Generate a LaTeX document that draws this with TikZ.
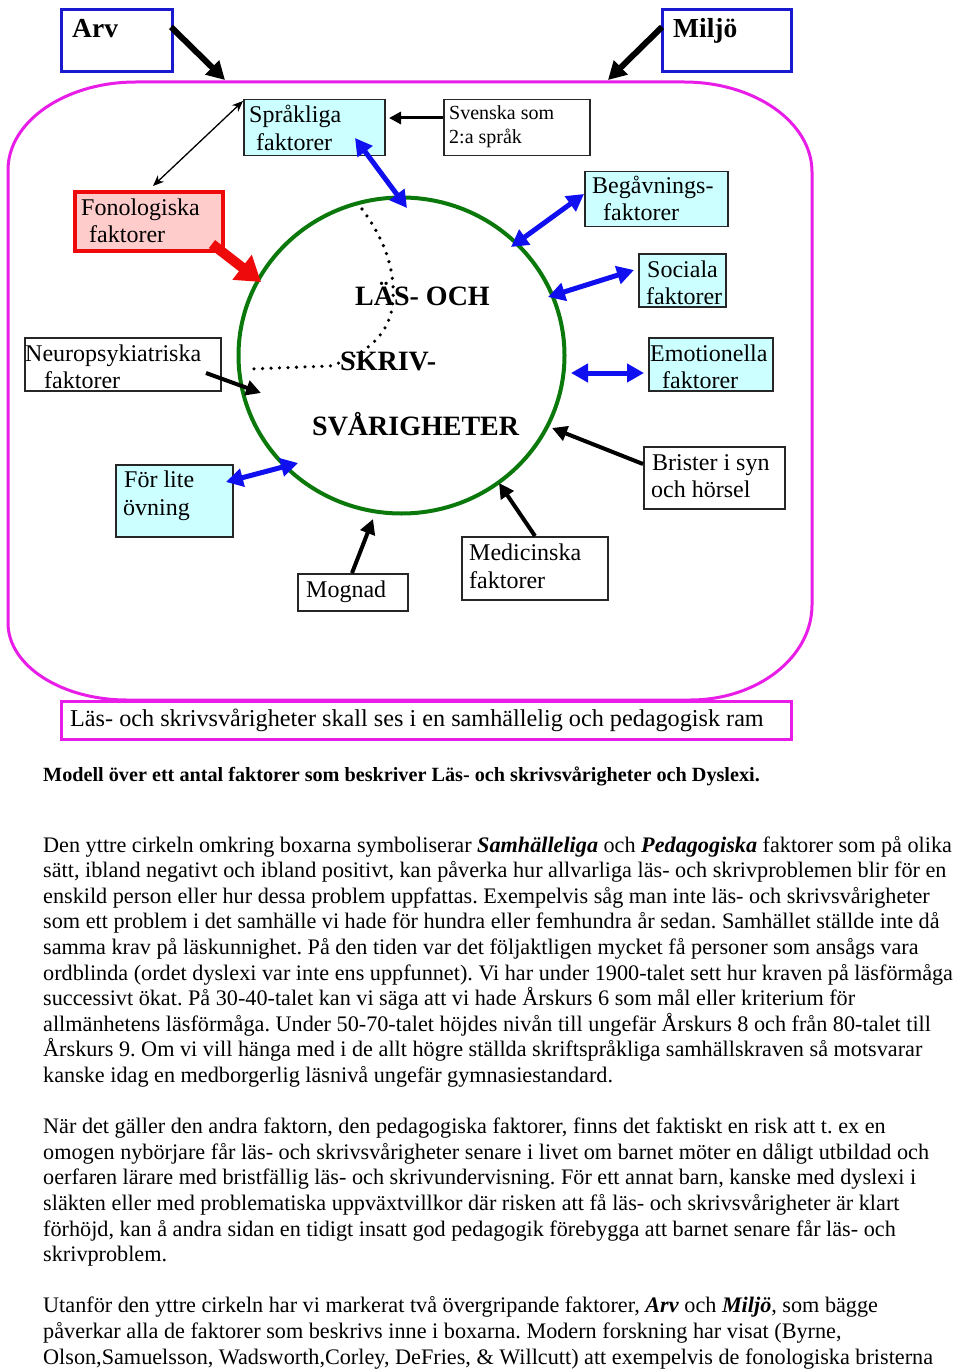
\documentclass[tikz,border=0pt]{standalone}
\usepackage{fontspec}
\setmainfont{Liberation Serif}
\usetikzlibrary{arrows.meta,calc}
\definecolor{boxblue}{RGB}{25,25,205}
\definecolor{arrblue}{RGB}{15,15,240}
\definecolor{pinkline}{RGB}{232,30,232}
\definecolor{circgreen}{RGB}{10,120,10}
\definecolor{cyanfill}{RGB}{204,255,255}
\definecolor{rosefill}{RGB}{255,204,204}
\definecolor{redline}{RGB}{238,10,10}
\frenchspacing
\begin{document}
\begin{tikzpicture}[x=1pt,y=-1pt,
  box/.style={draw=black!85, line width=1.5pt, anchor=north west, inner sep=0pt},
  bigbox/.style={draw=boxblue, line width=3pt, anchor=north west, inner sep=0pt},
  bt/.style={anchor=base west, inner sep=0pt, font=\fontsize{24}{28}\selectfont},
  st/.style={anchor=base west, inner sep=0pt, font=\fontsize{20}{24}\selectfont},
  ht/.style={anchor=base west, inner sep=0pt, font=\fontsize{27.5}{30}\selectfont\bfseries},
  ct/.style={anchor=base west, inner sep=0pt, font=\fontsize{28}{30}\selectfont\bfseries},
  body/.style={anchor=base west, inner sep=0pt, font=\fontsize{22.2}{25}\selectfont},
  heavy/.style={line width=6pt, -{Triangle[length=18pt,width=19pt]}},
  medarr/.style={line width=4pt, -{Triangle[length=15pt,width=15pt]}},
  thinarr/.style={line width=3pt, -{Triangle[length=12pt,width=12pt]}},
  twoway/.style={arrblue, line width=5pt, {Triangle[length=17pt,width=18pt]}-{Triangle[length=17pt,width=18pt]}},
  dotline/.style={line width=3.6pt, dash pattern=on 0pt off 8.5pt, line cap=round}
]
\useasboundingbox (0,0) rectangle (960,1372);
\fill[white] (0,0) rectangle (960,1372);

% outer rounded frame
\draw[pinkline, line width=3pt] (136,82) -- (684,82)
  .. controls (754.7,82) and (812,122.3) .. (812,172) -- (812,605)
  .. controls (812,657.4) and (757.3,700) .. (690,700) -- (127,700)
  .. controls (61.3,700) and (8,665.5) .. (8,623) -- (8,170)
  .. controls (8,121.4) and (65.3,82) .. (136,82) -- cycle;

% central circle
\draw[circgreen, line width=4pt] (401.5,355.5) ellipse [x radius=163, y radius=158];

% dotted line
\draw[dotline] (362,209) .. controls (385,240) and (395,270) .. (393,300)
  .. controls (391,335) and (365,355) .. (330,366) -- (250,369);

% boxes
\node[bigbox, minimum width=111pt, minimum height=62pt] (arv) at (60,8) {};
\node[bigbox, minimum width=129pt, minimum height=62pt] (milj) at (661,8) {};
\node[box, fill=cyanfill, minimum width=141pt, minimum height=56pt] (spr) at (243,99) {};
\node[box, minimum width=146pt, minimum height=56pt] (sve) at (443,99) {};
\node[box, draw=redline, line width=4pt, fill=rosefill, minimum width=148pt, minimum height=59pt] (fon) at (73,190) {};
\node[box, fill=cyanfill, minimum width=143pt, minimum height=55pt] (beg) at (584,171) {};
\node[box, fill=cyanfill, minimum width=87pt, minimum height=53pt] (soc) at (638,253) {};
\node[box, fill=cyanfill, minimum width=124pt, minimum height=53pt] (emo) at (648,337) {};
\node[box, minimum width=141pt, minimum height=62pt] (bri) at (643,446) {};
\node[box, minimum width=146pt, minimum height=63pt] (med) at (461,536) {};
\node[box, minimum width=110pt, minimum height=37pt] (mog) at (297,573) {};
\node[box, fill=cyanfill, minimum width=117pt, minimum height=72pt] (ovn) at (115,464) {};
\node[box, minimum width=196pt, minimum height=53pt] (neu) at (24,337) {};
\node[box, draw=pinkline, line width=3pt, fill=white, minimum width=730pt, minimum height=38pt] (ram) at (60,700) {};

% box texts
\node[ht] (arvT) at (72,38) {Arv};
\node[ht] (miljT) at (673,38) {Miljö};
\node[bt] (sprT1) at (249,123) {Språkliga};
\node[bt] (sprT2) at (256,151) {faktorer};
\node[st] (sveT1) at (449,120) {Svenska som};
\node[st] (sveT2) at (449,144) {2:a språk};
\node[bt] (fonT1) at (81,216) {Fonologiska};
\node[bt] (fonT2) at (89,243) {faktorer};
\node[bt] (begT1) at (592,194) {Begåvnings-};
\node[bt] (begT2) at (603,221) {faktorer};
\node[bt] (socT1) at (647,277) {Sociala};
\node[bt] (socT2) at (646,304) {faktorer};
\node[bt] (emoT1) at (650,361) {Emotionella};
\node[bt] (emoT2) at (662,388) {faktorer};
\node[bt] (briT1) at (652,470) {Brister i syn};
\node[bt] (briT2) at (651,497) {och hörsel};
\node[bt] (medT1) at (469,560) {Medicinska};
\node[bt] (medT2) at (469,588) {faktorer};
\node[bt] (mogT) at (306,597) {Mognad};
\node[bt] (ovnT1) at (124,487) {För lite};
\node[bt] (ovnT2) at (123,515) {övning};
\node[bt] (neuT1) at (25,361) {Neuropsykiatriska};
\node[bt] (neuT2) at (44,388) {faktorer};
\node[anchor=base west, inner sep=0pt, font=\fontsize{24.2}{26}\selectfont] (ramT) at (70,726) {Läs- och skrivsvårigheter skall ses i en samhällelig och pedagogisk ram};

% centre title
\node[ct] (c1) at (355,305) {LÄS- OCH};
\node[ct] (c2) at (340,370) {SKRIV-};
\node[ct] (c3) at (312,435) {SVÅRIGHETER};

% connector end points
\coordinate (arvS) at (171,27);  \coordinate (arvE) at (225,80);
\coordinate (milS) at (662,27);  \coordinate (milE) at (608,80);
\coordinate (sveS) at (443,118); \coordinate (sveE) at (389,118);
\coordinate (sfA) at (243,101);  \coordinate (sfB) at (153,186);
\coordinate (fonS) at (212,244); \coordinate (fonE) at (261,282);
\coordinate (sprA) at (355,138); \coordinate (sprB) at (407,208);
\coordinate (begA) at (584,194); \coordinate (begB) at (511,247);
\coordinate (socA) at (634,270); \coordinate (socB) at (548,297);
\coordinate (emoA) at (644,373); \coordinate (emoB) at (571,373);
\coordinate (ovnA) at (226,482); \coordinate (ovnB) at (298,463);
\coordinate (neuS) at (206,373); \coordinate (neuE) at (261,393);
\coordinate (briS) at (643,464); \coordinate (briE) at (552,428);
\coordinate (medS) at (535,536); \coordinate (medE) at (499,483);
\coordinate (mogS) at (352,573); \coordinate (mogE) at (373,519);

% connectors
\draw[heavy] (arvS) -- (arvE);
\draw[heavy] (milS) -- (milE);
\draw[thinarr] (sveS) -- (sveE);
\draw[line width=1.3pt, {Stealth[length=11pt,width=9pt]}-{Stealth[length=11pt,width=9pt]}] (sfA) -- (sfB);
\draw[redline, line width=10pt, -{Triangle[length=24pt,width=30pt]}] (fonS) -- (fonE);
\draw[twoway] (sprA) -- (sprB);
\draw[twoway] (begA) -- (begB);
\draw[twoway] (socA) -- (socB);
\draw[twoway] (emoA) -- (emoB);
\draw[twoway] (ovnA) -- (ovnB);
\draw[medarr] (neuS) -- (neuE);
\draw[medarr] (briS) -- (briE);
\draw[medarr] (medS) -- (medE);
\draw[medarr] (mogS) -- (mogE);

% caption
\node[anchor=base west, inner sep=0pt, font=\fontsize{20.2}{22}\selectfont\bfseries] (cap) at (43,781) {Modell över ett antal faktorer som beskriver Läs- och skrivsvårigheter och Dyslexi.};

% body text
\node[body] (p1) at (43,852) {Den yttre cirkeln omkring boxarna symboliserar \textbf{\textit{Samhälleliga}} och \textbf{\textit{Pedagogiska}} faktorer som på olika};
\node[body] (p2) at (43,877.6) {sätt, ibland negativt och ibland positivt, kan påverka hur allvarliga läs- och skrivproblemen blir för en};
\node[body] (p3) at (43,903.2) {enskild person eller hur dessa problem uppfattas. Exempelvis såg man inte läs- och skrivsvårigheter};
\node[body] (p4) at (43,928.8) {som ett problem i det samhälle vi hade för hundra eller femhundra år sedan. Samhället ställde inte då};
\node[body] (p5) at (43,954.4) {samma krav på läskunnighet. På den tiden var det följaktligen mycket få personer som ansågs vara};
\node[body] (p6) at (43,980) {ordblinda (ordet dyslexi var inte ens uppfunnet). Vi har under 1900-talet sett hur kraven på läsförmåga};
\node[body] (p7) at (43,1005.6) {successivt ökat. På 30-40-talet kan vi säga att vi hade Årskurs 6 som mål eller kriterium för};
\node[body] (p8) at (43,1031.2) {allmänhetens läsförmåga. Under 50-70-talet höjdes nivån till ungefär Årskurs 8 och från 80-talet till};
\node[body] (p9) at (43,1056.8) {Årskurs 9. Om vi vill hänga med i de allt högre ställda skriftspråkliga samhällskraven så motsvarar};
\node[body] (p10) at (43,1082.4) {kanske idag en medborgerlig läsnivå ungefär gymnasiestandard.};

\node[body] (q1) at (43,1133.6) {När det gäller den andra faktorn, den pedagogiska faktorer, finns det faktiskt en risk att t. ex en};
\node[body] (q2) at (43,1159.2) {omogen nybörjare får läs- och skrivsvårigheter senare i livet om barnet möter en dåligt utbildad och};
\node[body] (q3) at (43,1184.8) {oerfaren lärare med bristfällig läs- och skrivundervisning. För ett annat barn, kanske med dyslexi i};
\node[body] (q4) at (43,1210.4) {släkten eller med problematiska uppväxtvillkor där risken att få läs- och skrivsvårigheter är klart};
\node[body] (q5) at (43,1236) {förhöjd, kan å andra sidan en tidigt insatt god pedagogik förebygga att barnet senare får läs- och};
\node[body] (q6) at (43,1261.6) {skrivproblem.};

\node[body] (r1) at (43,1312.8) {Utanför den yttre cirkeln har vi markerat två övergripande faktorer, \textbf{\textit{Arv}} och \textbf{\textit{Miljö}}, som bägge};
\node[body] (r2) at (43,1338.4) {påverkar alla de faktorer som beskrivs inne i boxarna. Modern forskning har visat (Byrne,};
\node[body] (r3) at (43,1364) {Olson,Samuelsson, Wadsworth,Corley, DeFries, \& Willcutt) att exempelvis de fonologiska bristerna};
\end{tikzpicture}
\end{document}
